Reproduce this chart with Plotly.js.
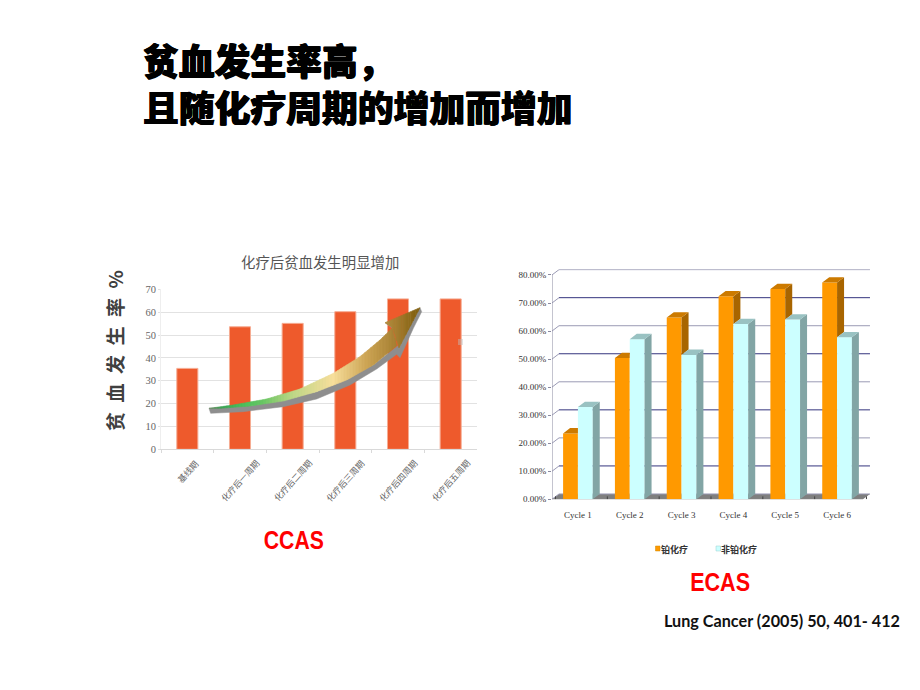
<!DOCTYPE html>
<html><head><meta charset="utf-8">
<script src="https://cdn.plot.ly/plotly-3.0.0.min.js"></script>
<style>html,body{margin:0;padding:0;background:#fff}#c{width:920px;height:690px}</style>
</head><body><div id="c"></div>
<script>
// ---- data ----
const mainTitle = "贫血发生率高，<br>且随化疗周期的增加而增加";
const ccasTitle = "化疗后贫血发生明显增加";
const ccasYLabel = "贫\u2002血\u2002发\u2002生\u2002率\u2002%";
const ccasCategories = ["基线期","化疗后一周期","化疗后二周期","化疗后三周期","化疗后四周期","化疗后五周期"];
const ccasValues = [35.4, 53.6, 55.1, 60.2, 65.8, 65.8];
const ccasTicks = [0,10,20,30,40,50,60,70];
const ecasCycles = ["Cycle 1","Cycle 2","Cycle 3","Cycle 4","Cycle 5","Cycle 6"];
const platinumName = "铂化疗";
const nonPlatinumName = "非铂化疗";
const platinumValues = [23.5, 50.4, 64.8, 72.4, 75.0, 77.3];
const nonPlatinumValues = [32.9, 57.1, 51.5, 62.5, 64.1, 57.8];
const ecasTicks = [0,10,20,30,40,50,60,70,80];

// ---- page geometry ----
const W = 920, H = 690;
const px = x => x / W, py = y => 1 - y / H;
const FONT_CJK = '"Noto Sans CJK SC", sans-serif';
const FONT_SERIF = '"Liberation Serif", serif';

// ---- ECAS pseudo-3D helpers: faces derived from the values ----
const barW = 0.286, dx = 0.135, dy = 1.9;
const idx = ecasCycles.map((_, i) => i);
function face(name, color, polys) {
  const xs = [], ys = [];
  polys.forEach(p => { p.forEach(q => { xs.push(q[0]); ys.push(q[1]); }); xs.push(p[0][0], null); ys.push(p[0][1], null); });
  return {type:'scatter', mode:'lines', x:xs, y:ys, xaxis:'x2', yaxis:'y2', fill:'toself', fillcolor:color,
          line:{width:0, color:color}, hoverinfo:'skip', showlegend:false, name:name};
}
const orangeSide = [], orangeTop = [], tealSide = [], tealTop = [];
idx.forEach(i => {
  const o = platinumValues[i], t = nonPlatinumValues[i];
  const xl = i - barW, xm = i, xr = i + barW;
  if (o > t) {
    orangeSide.push([[xm,o],[xm+dx,o+dy],[xm+dx,t+dy],[xm,t]]);
    orangeTop.push([[xl,o],[xl+dx,o+dy],[xm+dx,o+dy],[xm,o]]);
  } else {
    orangeTop.push([[xl,o],[xl+dx,o+dy],[xm,o+dy],[xm,o]]);
  }
  tealSide.push([[xr,t],[xr+dx,t+dy],[xr+dx,dy],[xr,0]]);
  tealTop.push([[xm,t],[xm+dx,t+dy],[xr+dx,t+dy],[xr,t]]);
});

const traces = [
  {type:'bar', x:ccasCategories, y:ccasValues, width:0.4, marker:{color:'#EE5A2C', line:{color:'#F6AC93', width:1}},
   xaxis:'x', yaxis:'y', showlegend:false, name:'CCAS', hoverinfo:'x+y'},
  {type:'bar', x:idx, y:platinumValues, width:barW, offset:-barW, marker:{color:'#FF9900'}, xaxis:'x2', yaxis:'y2', showlegend:false, name:platinumName},
  {type:'bar', x:idx, y:nonPlatinumValues, width:barW, offset:0, marker:{color:'#CCFFFF'}, xaxis:'x2', yaxis:'y2', showlegend:false, name:nonPlatinumName},
  face('side1', '#A86500', orangeSide),
  face('top1', '#CC7A00', orangeTop),
  face('side2', '#82A5A5', tealSide),
  face('top2', '#99C2C2', tealTop)
];

// ---- ECAS walls, floor, back grid (below the bars) ----
const shapes = [];
const xL = -0.5, xR = 5.5;
const ln = (x0,y0,x1,y1,color,width) => ({type:'line', xref:'x2', yref:'y2', x0,y0,x1,y1, layer:'below', line:{color,width}});
shapes.push({type:'path', xref:'x2', yref:'y2', layer:'below', fillcolor:'#7F7F7F', line:{width:0},
  path:`M${xL},0 L${xL+dx},${dy} L${xR+dx},${dy} L${xR},0 Z`});
ecasTicks.forEach((v, k) => {
  const c = k % 2 ? '#34347E' : '#9A9AB4';
  shapes.push(ln(xL+dx, v+dy, xR+dx, v+dy, c, 1));
  shapes.push(ln(xL, v, xL+dx, v+dy, '#9A9AB4', 1));
});
shapes.push(ln(xL, 0, xL, 80, '#8A8AA0', 1));
shapes.push(ln(xL, 0, xR, 0, '#8A8A8A', 1));
idx.concat([6]).forEach(i => shapes.push(ln(i-0.5+dx*0.5, dy*0.55, i-0.5+dx*0.5, 0, '#444444', 1)));

// ---- curved arrow (decoration, page pixels) ----
const az = (zx, zy) => [200 + zx/3, 295 + zy/3];
const arrowTop = [[27,340],[100,330],[200,312],[300,282],[400,235],[480,185],[540,135],[578,98],[590,152]];
const arrowBottom = [[27,340],[60,340],[150,333],[250,318],[350,290],[440,255],[520,210],[590,152]];
const headTop = [[555,83],[660,38]];
const headBottom = [[555,83],[578,98],[597,158],[660,38]];
const arrowShadow = [[27,340],[32,355],[130,350],[250,335],[350,312],[450,270],[530,222],[590,178],[600,188],[640,100],[665,50],[660,38],[597,150],[520,210],[350,290],[150,333]];
const barbShadow = [[555,83],[584,90],[578,100]];
const gradX = [27,70,120,190,280,400,500,600,660];
const gradC = [[110,140,100],[60,165,85],[70,190,90],[105,198,100],[190,215,135],[247,222,155],[205,165,85],[160,122,45],[125,92,10]];
function colorAt(x){
  for(let i=1;i<gradX.length;i++){ if(x<=gradX[i]){ const t=(x-gradX[i-1])/(gradX[i]-gradX[i-1]);
    const c=gradC[i].map((v,j)=>Math.round(gradC[i-1][j]+(v-gradC[i-1][j])*t)); return `rgb(${c[0]},${c[1]},${c[2]})`; } }
  const e=gradC[gradC.length-1]; return `rgb(${e[0]},${e[1]},${e[2]})`;
}
function yOn(edge,x){
  for(let i=1;i<edge.length;i++){ if(x<=edge[i][0]){ const a=edge[i-1],b=edge[i]; return a[1]+(b[1]-a[1])*(x-a[0])/Math.max(b[0]-a[0],1e-6); } }
  return edge[edge.length-1][1];
}
const polyPath = pts => 'M' + pts.map(p => { const q = az(p[0],p[1]); return px(q[0]).toFixed(5)+','+py(q[1]).toFixed(5); }).join(' L') + ' Z';
const pageShape = (pts,color,lw) => ({type:'path', xref:'paper', yref:'paper', layer:'above', path:polyPath(pts), fillcolor:color, line:{color:color, width:lw||0}});
shapes.push(pageShape(arrowShadow,'#8E8E8E',0.5));
shapes.push(pageShape(barbShadow,'#9A9A9A',0.5));
function strips(top,bottom,x0,x1,step){
  for(let x=x0;x<x1;x+=step){
    const b=Math.min(x+step,x1);
    shapes.push(pageShape([[x,yOn(top,x)],[b,yOn(top,b)],[b,yOn(bottom,b)],[x,yOn(bottom,x)]],colorAt((x+b)/2),0.6));
  }
}
strips(arrowTop.slice(0,8).concat([[590,152]]),arrowBottom,27,590,9);
strips(headTop,headBottom,555,660,7);
// faint speck near the last bar of the CCAS chart
shapes.push({type:'rect', xref:'paper', yref:'paper', layer:'above', x0:px(458), x1:px(463), y0:py(345), y1:py(339), fillcolor:'rgba(190,190,190,0.45)', line:{width:0}});

// ---- ECAS legend keys ----
const legendKeys = [[655.5,'#FF9900'],[716,'#CCFFFF']];
legendKeys.forEach(k => shapes.push({type:'rect', xref:'paper', yref:'paper', x0:px(k[0]), x1:px(k[0]+4.5), y0:py(551), y1:py(546), fillcolor:k[1], line:{color:k[1]==='#CCFFFF'?'#9CC':'#C80',width:0.5}}));

// ---- annotations ----
const note = (text,x,y,size,color,extra) => Object.assign({text, x:px(x), y:py(y), xref:'paper', yref:'paper', showarrow:false,
  xanchor:'center', yanchor:'middle', font:{family:FONT_CJK, size, color}}, extra||{});
const redFont = {family:'"Liberation Sans",sans-serif', size:26, color:'#FF0000', weight:700};
const annotations = [
  note(ccasTitle, 320, 261, 14.4, '#555555'),
  note(ccasYLabel, 115, 351, 19, '#404040', {textangle:-90, font:{family:FONT_CJK, size:19, color:'#404040', weight:700}}),
  note('CCAS', 294, 540, 26, '#FF0000', {font:redFont}),
  note('ECAS', 719.5, 582, 26, '#FF0000', {font:redFont}),
  note('Lung Cancer (2005) 50, 401- 412', 782, 620, 16.2, '#111111', {font:{family:'Lato, sans-serif', size:16.2, color:'#111111', weight:700}}),
  note(platinumName, 674, 549, 9, '#333333', {font:{family:FONT_CJK, size:9, color:'#333333', weight:700}}),
  note(nonPlatinumName, 739, 549, 9, '#333333', {font:{family:FONT_CJK, size:9, color:'#333333', weight:700}})
];
ccasCategories.forEach(c => annotations.push({text:c, x:c, xref:'x', y:py(454), yref:'paper', yanchor:'top', xanchor:'center', showarrow:false,
  textangle:-48, font:{family:FONT_CJK, size:8.6, color:'#666666'}}));

const layout = {
  width:W, height:H, margin:{l:0,r:0,t:0,b:0}, paper_bgcolor:'#fff', plot_bgcolor:'rgba(0,0,0,0)',
  showlegend:false, barmode:'overlay',
  title:{text:mainTitle, x:px(143), xanchor:'left', xref:'paper', y:py(75), yref:'paper', yanchor:'top',
         font:{family:FONT_CJK, size:35.8, color:'#000000', weight:900, shadow:'0.6px 0 0 #000, -0.6px 0 0 #000, 0 0.5px 0 #000'}},
  xaxis:{domain:[px(161),px(477)], type:'category', tickson:'boundaries', ticks:'outside', ticklen:3, tickcolor:'#D9D9D9',
         showline:true, linecolor:'#D9D9D9', showticklabels:false, showgrid:false, zeroline:false, fixedrange:true},
  yaxis:{domain:[py(449.3),py(289.3)], range:[0,70], tickmode:'array', tickvals:ccasTicks, ticktext:ccasTicks.map(String), ticks:'outside', ticklen:2,
         tickcolor:'#E0E0E0', gridcolor:'#E2E2E2', gridwidth:1, showline:true, linecolor:'#EEEEEE', zeroline:false,
         tickfont:{family:FONT_SERIF, size:10.5, color:'#666666'}, fixedrange:true},
  xaxis2:{domain:[px(552),px(870)], range:[xL, xL + 318/51.83], type:'linear', tickmode:'array', tickvals:idx, ticktext:ecasCycles, ticks:'',
          showgrid:false, zeroline:false, showline:false, ticklabelstandoff:9, anchor:'y2',
          tickfont:{family:FONT_SERIF, size:9, color:'#333333'}, fixedrange:true},
  yaxis2:{domain:[py(499.3),py(269.3)], range:[0,82.02], type:'linear', tickmode:'array', tickvals:ecasTicks, ticktext:ecasTicks.map(v=>v.toFixed(2)+'%'),
          ticks:'outside', ticklen:3, tickcolor:'#8A8AA0', showgrid:false, zeroline:false, showline:false, anchor:'x2',
          tickfont:{family:FONT_SERIF, size:9, color:'#333333'}, fixedrange:true},
  shapes, annotations
};
Plotly.newPlot('c', traces, layout, {displayModeBar:false, staticPlot:true}).then(() => {
  // the reference's red labels are set in a condensed face: fit them to the same width
  document.querySelectorAll('#c .annotation-text').forEach(t => {
    if (t.textContent === 'CCAS' || t.textContent === 'ECAS') {
      t.setAttribute('textLength', '60');
      t.setAttribute('lengthAdjust', 'spacingAndGlyphs');
    }
  });
});
</script></body></html>
